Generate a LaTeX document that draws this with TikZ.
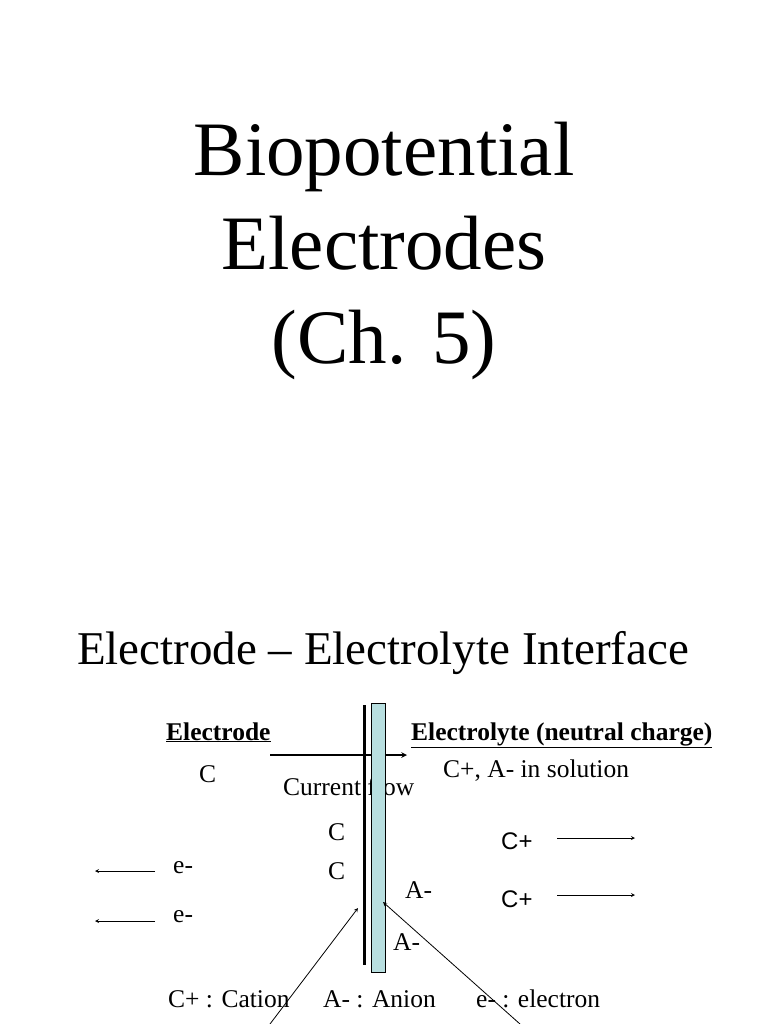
\documentclass[tikz,border=0pt]{standalone}
\usepackage{fontspec}
\setmainfont{Liberation Serif}
\newfontfamily\sansf{Liberation Sans}
\begin{document}
\begin{tikzpicture}[x=1pt,y=-1pt,
  t/.style={inner sep=0pt,anchor=base west},
  ar/.style={-stealth,line width=0.8pt}]
\useasboundingbox (0,0) rectangle (768,1024);
\node[inner sep=0pt,align=center,font=\fontsize{77}{94}\selectfont] (title) at (384,251) {Biopotential\\Electrodes\\(Ch. 5)};
\node[inner sep=0pt,font=\fontsize{47}{56}\selectfont] (sub) at (383,653) {Electrode -- Electrolyte Interface};
\node[t,font=\fontsize{25.5}{30}\selectfont\bfseries] (ed) at (166,740) {\underline{Electrode}};
\node[t,font=\fontsize{25.5}{30}\selectfont\bfseries] (el) at (411,740) {\underline{Electrolyte (neutral charge)}};
\node[t,font=\fontsize{25.5}{30}\selectfont] (cur) at (283,795) {Current flow};
\coordinate (cf1) at (270,755); \coordinate (cf2) at (407,755);
\draw[-stealth,line width=1.5pt] (cf1) -- (cf2);
\coordinate (m1) at (364,705); \coordinate (m2) at (364,965);
\draw[line width=3pt] (m1) -- (m2);
\draw[fill={rgb,255:red,184;green,223;blue,224},line width=0.8pt] (371,703) rectangle (385,972);
\begin{scope}[font=\fontsize{25.5}{30}\selectfont]
\node[t] (c0) at (199,782) {C};
\node[t] (sol) at (443,777) {C+, A- in solution};
\node[t] (c1) at (328,840) {C};
\node[t] (c2) at (328,879) {C};
\node[t] (e1) at (173,873) {e-};
\node[t] (e2) at (173,922) {e-};
\node[t] (a1) at (405,898) {A-};
\node[t] (a2) at (393,950) {A-};
\node[t] (lc) at (168,1007) {C+ : Cation};
\node[t] (la) at (323,1007) {A- : Anion};
\node[t] (le) at (476,1007) {e- : electron};
\end{scope}
\node[t,font=\sansf\fontsize{24}{28}\selectfont] (p1) at (501,849) {C+};
\node[t,font=\sansf\fontsize{24}{28}\selectfont] (p2) at (501,907) {C+};
\coordinate (x1) at (155,871); \coordinate (y1) at (95,871);
\coordinate (x2) at (155,921); \coordinate (y2) at (95,921);
\draw[ar] (x1) -- (y1); \draw[ar] (x2) -- (y2);
\coordinate (r1) at (557,838); \coordinate (s1) at (635,838);
\coordinate (r2) at (557,895); \coordinate (s2) at (635,895);
\draw[ar] (r1) -- (s1); \draw[ar] (r2) -- (s2);
\coordinate (d1) at (270,1024); \coordinate (d2) at (358,908);
\coordinate (d3) at (520,1024); \coordinate (d4) at (383,902);
\draw[ar] (d1) -- (d2); \draw[ar] (d3) -- (d4);
\end{tikzpicture}
\end{document}
